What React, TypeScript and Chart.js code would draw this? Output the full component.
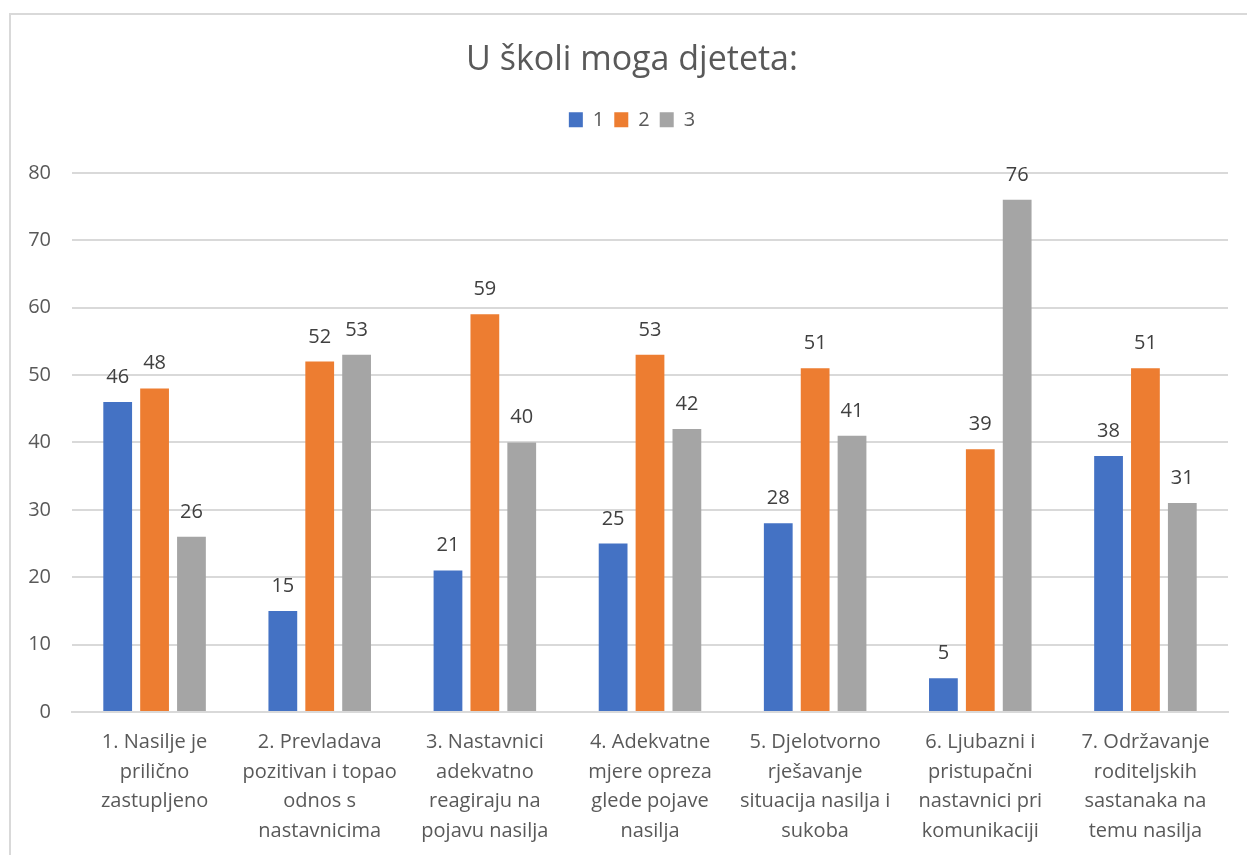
import React, { useEffect, useRef } from "react";
import { Chart, registerables } from "chart.js";

Chart.register(...registerables);

const titleText = "U školi moga djeteta:";
const seriesNames = ["1", "2", "3"];
const categories: string[][] = [
  ["1. Nasilje je", "prilično", "zastupljeno"],
  ["2. Prevladava", "pozitivan i topao", "odnos s", "nastavnicima"],
  ["3. Nastavnici", "adekvatno", "reagiraju na", "pojavu nasilja"],
  ["4. Adekvatne", "mjere opreza", "glede pojave", "nasilja"],
  ["5. Djelotvorno", "rješavanje", "situacija nasilja i", "sukoba"],
  ["6. Ljubazni i", "pristupačni", "nastavnici pri", "komunikaciji"],
  ["7. Održavanje", "roditeljskih", "sastanaka na", "temu nasilja"],
];
const series1 = [46, 15, 21, 25, 28, 5, 38];
const series2 = [48, 52, 59, 53, 51, 39, 51];
const series3 = [26, 53, 40, 42, 41, 76, 31];
const yMin = 0;
const yMax = 80;
const yStep = 10;

const colors = ["#4472C4", "#ED7D31", "#A5A5A5"];
const FONT = "'Open Sans', Lato, sans-serif";

const borderPlugin = {
  id: "outerBorder",
  beforeDraw(chart: any) {
    const ctx = chart.ctx;
    ctx.save();
    ctx.fillStyle = "#ffffff";
    ctx.fillRect(0, 0, chart.width, chart.height);
    ctx.strokeStyle = "#d9d9d9";
    ctx.lineWidth = 2;
    ctx.strokeRect(10, 14, 3000, 3000);
    ctx.restore();
  },
};

const labelPlugin = {
  id: "valueLabels",
  afterDatasetsDraw(chart: any) {
    const ctx = chart.ctx;
    ctx.save();
    ctx.font = `20px ${FONT}`;
    ctx.fillStyle = "#404040";
    ctx.textAlign = "center";
    ctx.textBaseline = "alphabetic";
    chart.data.datasets.forEach((ds: any, i: number) => {
      const meta = chart.getDatasetMeta(i);
      meta.data.forEach((el: any, j: number) => {
        ctx.fillText(String(ds.data[j]), el.x, el.y - 19);
      });
    });
    ctx.restore();
  },
};

export default function App() {
  const ref = useRef<HTMLCanvasElement | null>(null);
  useEffect(() => {
    if (!ref.current) return;
    const chart = new Chart(ref.current, {
      type: "bar",
      data: {
        labels: categories,
        datasets: [
          { label: seriesNames[0], data: series1, backgroundColor: colors[0] },
          { label: seriesNames[1], data: series2, backgroundColor: colors[1] },
          { label: seriesNames[2], data: series3, backgroundColor: colors[2] },
        ],
      },
      options: {
        animation: false,
        responsive: true,
        maintainAspectRatio: false,
        datasets: {
          bar: { categoryPercentage: 0.67, barPercentage: 0.78 },
        },
        layout: { padding: { left: 0, right: 0, top: 0, bottom: 0 } },
        plugins: {
          title: {
            display: true,
            text: titleText,
            color: "#595959",
            font: { family: FONT, size: 34, weight: "normal" },
            padding: { top: 40, bottom: 19 },
          },
          subtitle: {
            display: true,
            text: " ",
            weight: 500,
            font: { size: 1, lineHeight: 1 },
            padding: { top: 0, bottom: 32 },
          },
          legend: {
            display: true,
            position: "top",
            labels: {
              color: "#595959",
              font: { family: FONT, size: 20 },
              boxWidth: 14,
              boxHeight: 15,
              padding: 10,
            },
          },
          tooltip: { enabled: false },
        },
        scales: {
          x: {
            grid: { display: false, drawTicks: false },
            border: { display: true, color: "#d9d9d9", width: 2 },
            ticks: {
              color: "#595959",
              font: { family: FONT, size: 20, lineHeight: 1.475 },
              padding: 16,
              maxRotation: 0,
              autoSkip: false,
            },
            afterFit(scale: any) {
              scale.height = 143;
            },
          },
          y: {
            min: yMin,
            max: yMax,
            ticks: {
              stepSize: yStep,
              color: "#595959",
              font: { family: FONT, size: 20 },
              padding: 21,
            },
            grid: { color: "#d9d9d9", lineWidth: 2, drawTicks: false },
            border: { display: false },
            afterFit(scale: any) {
              scale.width = 72;
            },
          },
          yRightSpacer: {
            position: "right",
            display: true,
            ticks: { display: false },
            grid: { display: false, drawTicks: false },
            border: { display: false },
            afterFit(scale: any) {
              scale.width = 36;
            },
          },
        },
      },
      plugins: [borderPlugin, labelPlugin],
    } as any);
    return () => chart.destroy();
  }, []);
  return (
    <div style={{ position: "fixed", left: 0, top: 0, width: 1264, height: 855 }}>
      <canvas ref={ref} />
    </div>
  );
}
